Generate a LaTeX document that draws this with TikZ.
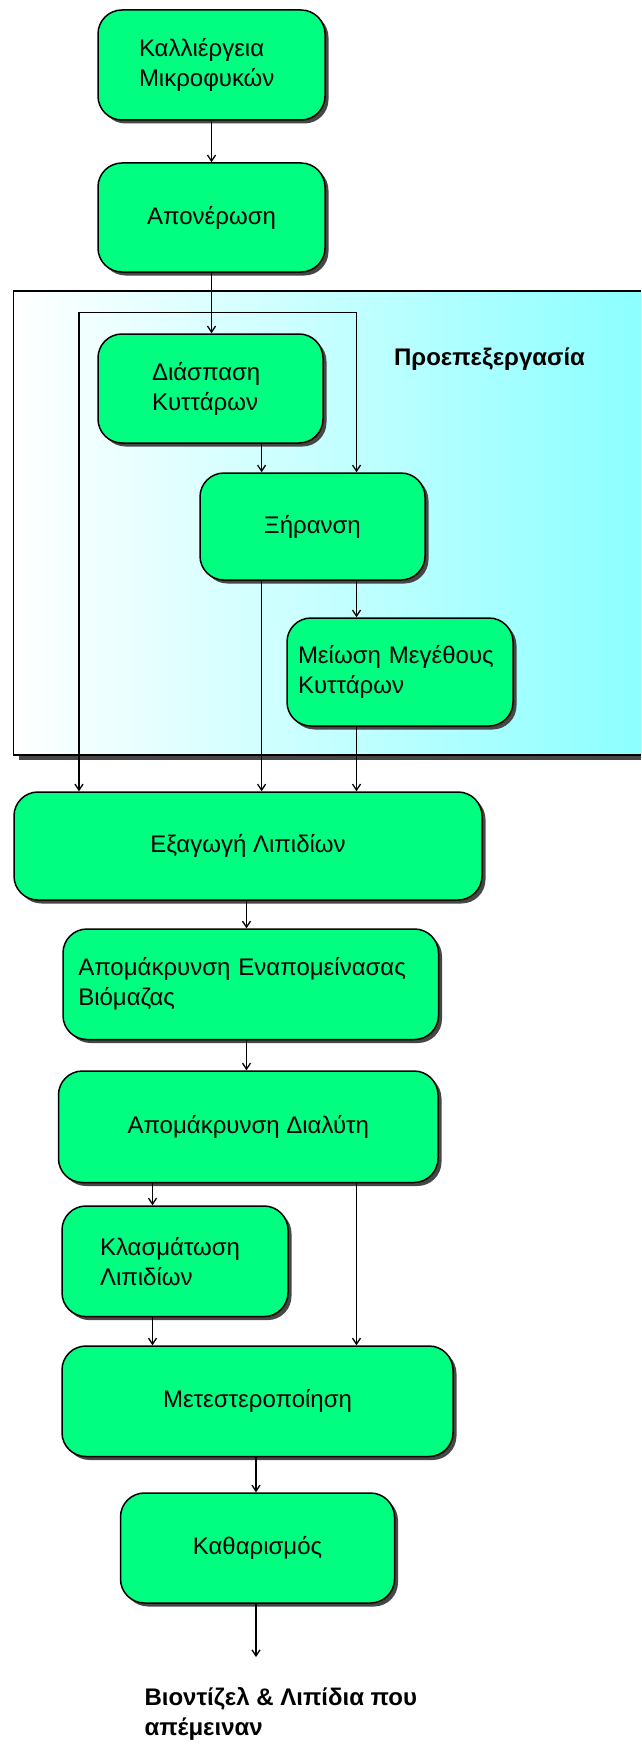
\documentclass[tikz,border=0pt]{standalone}
\usepackage{fontspec}
\setmainfont{Liberation Sans}
\usetikzlibrary{arrows.meta,shadows}

\definecolor{procgreen}{RGB}{0,255,128}
\definecolor{groupcyan}{RGB}{140,255,255}
\definecolor{shadowgray}{RGB}{70,70,70}

\tikzset{
  proc_box/.style={rectangle,rounded corners=24pt,draw=black,line width=1.5pt,fill=procgreen,
    drop shadow={shadow xshift=3.5pt,shadow yshift=-3.5pt,fill=shadowgray,opacity=1},
    inner sep=0pt,font=\fontsize{24}{30}\selectfont,align=center},
  proc_left/.style={proc_box,align=left},
  group_label/.style={font=\fontsize{24}{30}\selectfont\bfseries},
}

\begin{document}
\begin{tikzpicture}[
  x=1pt, y=-1pt,
  flow_line/.style={line width=1.3pt},
  flow_arrow/.style={flow_line,-{Straight Barb[length=6pt,width=8pt]}},
  ]
  \useasboundingbox (0,0) rectangle (641,1744);

  \shade[left color=white,right color=groupcyan] (13.5,291) rectangle (641,755);
  \fill[shadowgray] (19,755) rectangle (641,760);
  \draw[line width=1.5pt] (641,291) -| (13.5,755) -- (641,755);

  \node[proc_left,minimum width=227pt,minimum height=110pt,text width=145pt] (cult) at (211.5,65) {Καλλιέργεια\\Μικροφυκών};
  \node[proc_box,minimum width=227pt,minimum height=109pt] (dewat) at (211.5,217.5) {Απονέρωση};
  \node[proc_left,minimum width=225pt,minimum height=109pt,text width=117pt] (disr) at (210.5,388.5) {Διάσπαση\\Κυττάρων};
  \node[proc_box,minimum width=225pt,minimum height=107pt] (dry) at (312.5,526.5) {Ξήρανση};
  \node[proc_left,minimum width=226pt,minimum height=108pt,text width=204pt] (size) at (400,672) {Μείωση Μεγέθους\\Κυττάρων};
  \node[group_label] (pre) at (489.5,359.5) {Προεπεξεργασία};

  \node[proc_box,minimum width=468pt,minimum height=108pt] (extr) at (248,846) {Εξαγωγή Λιπιδίων};
  \node[proc_left,minimum width=375.5pt,minimum height=110.5pt,text width=345pt] (bio) at (250.75,984.25) {Απομάκρυνση Εναπομείνασας\\Βιόμαζας};
  \node[proc_box,minimum width=379.5pt,minimum height=111.5pt] (solv) at (248.25,1126.75) {Απομάκρυνση Διαλύτη};
  \node[proc_left,minimum width=226pt,minimum height=110.6pt,text width=150pt] (frac) at (175,1261.3) {Κλασμάτωση\\Λιπιδίων};
  \node[proc_box,minimum width=391pt,minimum height=110.5pt] (trans) at (257.5,1401.25) {Μετεστεροποίηση};
  \node[proc_box,minimum width=274pt,minimum height=110pt] (pur) at (257.5,1548) {Καθαρισμός};
  \node[group_label,anchor=west,align=left] (prod) at (141,1714) {Βιοντίζελ \& Λιπίδια που\\απέμειναν};

  \coordinate (colC) at (211.5,0);
  \coordinate (colL) at (79,0);
  \coordinate (colM) at (261.6,0);
  \coordinate (colR) at (356.5,0);
  \coordinate (colE) at (246.5,0);
  \coordinate (colF) at (152.5,0);
  \coordinate (colP) at (256,0);
  \coordinate (fork) at (211.5,312.5);
  \coordinate (prodTip) at (256,1657);

  \foreach \from/\to/\col in {cult/dewat/colC, dewat/disr/colC, disr/dry/colM, dry/extr/colM,
    dry/size/colR, size/extr/colR, extr/bio/colE, bio/solv/colE, solv/frac/colF,
    solv/trans/colR, frac/trans/colF, trans/pur/colP}{
    \draw[flow_arrow] (\from.south -| \col) -- (\to.north -| \col);
  }
  \draw[flow_arrow] (fork) -| (extr.north -| colL);
  \draw[flow_arrow] (fork) -| (dry.north -| colR);
  \draw[flow_arrow] (pur.south -| colP) -- (prodTip);

\end{tikzpicture}
\end{document}
